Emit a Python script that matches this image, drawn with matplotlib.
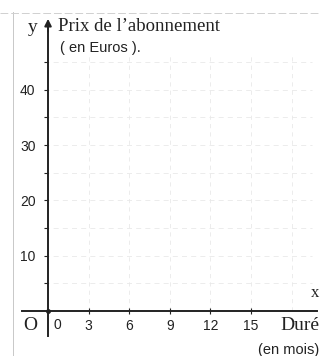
import matplotlib
matplotlib.use("Agg")
import matplotlib.pyplot as plt
from matplotlib.lines import Line2D

# axis graduations
months = [3, 6, 9, 12, 15]
prices = [10, 20, 30, 40]
price_minor = [5, 15, 25, 35, 45]
grid_months = [3, 6, 9, 12, 15, 18]
grid_prices = [5, 10, 15, 20, 25, 30, 35, 40, 45]

serif = "Liberation Serif"
sans = "Liberation Sans"
ink = "#222222"

fig = plt.figure(figsize=(3.2, 3.56), dpi=100)
fig.patch.set_facecolor("white")
ax = fig.add_axes([0, 0, 1, 1])
ax.set_xlim(-3.55, 20.1)
ax.set_ylim(-8.1, 56.2)
ax.set_facecolor("white")

# faint broken grid
for m in grid_months:
    ax.plot([m, m], [0, 46], color="#e9e9e9", lw=0.6, ls=(0, (5, 5)), zorder=1)
for p in grid_prices:
    ax.plot([-0.3, 19.5], [p, p], color="#e9e9e9", lw=0.6, ls=(0, (6, 5)), zorder=1)

# axes through the origin
for side in ["top", "right"]:
    ax.spines[side].set_visible(False)
ax.spines["left"].set_position(("data", 0))
ax.spines["bottom"].set_position(("data", 0))
ax.spines["left"].set_bounds(-4.4, 52.0)
ax.spines["bottom"].set_bounds(-1.9, 19.9)
for side in ["left", "bottom"]:
    ax.spines[side].set_linewidth(1.4)
    ax.spines[side].set_color(ink)

ax.set_xticks(months)
ax.set_xticklabels([str(m) for m in months], fontfamily=sans, fontsize=10)
ax.set_yticks(prices)
ax.set_yticklabels([str(p) for p in prices], fontfamily=sans, fontsize=10)
ax.set_yticks(price_minor, minor=True)
ax.tick_params(axis="x", direction="inout", length=4, width=0.8, pad=4, colors=ink)
ax.tick_params(axis="y", direction="out", length=3, width=0.8, pad=6, colors=ink)
ax.tick_params(axis="y", which="minor", direction="out", length=3, width=0.8, colors=ink)

# arrow heads
ax.annotate("", xy=(0, 53.3), xytext=(0, 50),
            arrowprops=dict(arrowstyle="-|>", color=ink, lw=1.4, mutation_scale=10))
ax.annotate("", xy=(20.3, 0), xytext=(19.0, 0),
            arrowprops=dict(arrowstyle="-|>", color=ink, lw=1.4, mutation_scale=10))
ax.plot([0], [0], "o", color=ink, ms=2.5, zorder=5)

# labels
ax.text(-1.11, 51.3, "y", fontfamily=serif, fontsize=14, ha="center", va="center", color=ink)
ax.text(0.74, 51.4, "Prix de l\u2019abonnement", fontfamily=serif, fontsize=13.5,
        ha="left", va="center", color=ink)
ax.text(0.85, 47.5, "( en Euros ).", fontfamily=sans, fontsize=10.5,
        ha="left", va="center", color=ink)
ax.text(-1.33, -2.6, "O", fontfamily=serif, fontsize=14, ha="center", va="center", color=ink)
ax.text(0.66, -2.5, "0", fontfamily=sans, fontsize=10, ha="center", va="center", color=ink)
ax.text(20.05, -2.6, "Dur\u00e9", fontfamily=serif, fontsize=14, ha="right", va="center", color=ink)
ax.text(20.05, -7.1, "(en mois)", fontfamily=sans, fontsize=10.5, ha="right", va="center", color=ink)
ax.text(20.05, 3.2, "x", fontfamily=serif, fontsize=12, ha="right", va="center", color=ink)

# page edge lines
fig.add_artist(Line2D([0.04, 0.04], [0.0, 0.965], color="#c8c8c8", lw=0.7))
fig.add_artist(Line2D([0.0, 1.0], [0.963, 0.963], color="#d0d0d0", lw=0.7, ls=(0, (8, 3))))

fig.savefig("out.png", dpi=100, facecolor="white")
